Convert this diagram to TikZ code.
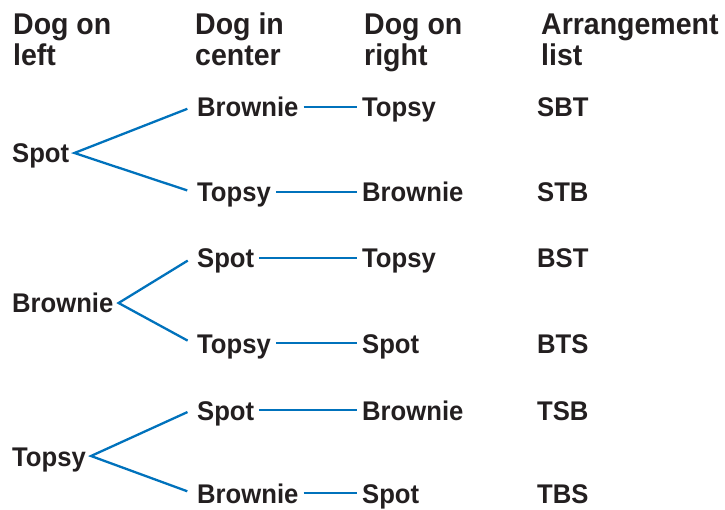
\documentclass[tikz,border=0pt]{standalone}
\usepackage{fontspec}
\setmainfont{Liberation Sans}
\newfontfamily\narrowsans[FakeStretch=0.95]{Liberation Sans}
\usetikzlibrary{positioning}
\definecolor{branchblue}{HTML}{0072BC}
\definecolor{inkdark}{HTML}{231F20}

\begin{document}
\begin{tikzpicture}[x=1pt, y=-1pt,
  head/.style={anchor=base west, inner sep=0pt, font=\narrowsans\fontsize{30}{34}\selectfont\bfseries, text=inkdark},
  dog/.style={anchor=base west, inner xsep=5pt, inner ysep=0pt, text height=20pt, text depth=0pt,
    font=\narrowsans\fontsize{27}{31}\selectfont\bfseries, text=inkdark},
  branch/.style={draw=branchblue, line width=2.3pt, shorten <=5pt, shorten >=5pt},
  link/.style={draw=branchblue, line width=2.3pt}
]
  \useasboundingbox (0,0) rectangle (725,510);

  % column headings
  \node[head] (hleft)   at (13,35)  {Dog on};
  \node[head] (hleftb)  at (13,66)  {left};
  \node[head] (hcent)   at (195,35) {Dog in};
  \node[head] (hcentb)  at (195,66) {center};
  \node[head] (hright)  at (364,35) {Dog on};
  \node[head] (hrightb) at (364,66) {right};
  \node[head] (hlist)   at (541,35) {Arrangement};
  \node[head] (hlistb)  at (541,66) {list};

  % Spot first
  \node[dog] (spot)  at (7,163)   {Spot};
  \node[dog] (sb)    at (192,117) {Brownie};
  \node[dog] (st)    at (192,202) {Topsy};
  \node[dog] (sbt)   at (357,117) {Topsy};
  \node[dog] (stb)   at (357,202) {Brownie};
  \node[dog] (lsbt)  at (532,117) {SBT};
  \node[dog] (lstb)  at (532,202) {STB};

  % Brownie first
  \node[dog] (brownie) at (7,313)   {Brownie};
  \node[dog] (bs)      at (192,268) {Spot};
  \node[dog] (bt)      at (192,353) {Topsy};
  \node[dog] (bst)     at (357,268) {Topsy};
  \node[dog] (bts)     at (357,353) {Spot};
  \node[dog] (lbst)    at (532,268) {BST};
  \node[dog] (lbts)    at (532,353) {BTS};

  % Topsy first
  \node[dog] (topsy) at (7,466)   {Topsy};
  \node[dog] (ts)    at (192,420) {Spot};
  \node[dog] (tb)    at (192,503) {Brownie};
  \node[dog] (tsb)   at (357,420) {Brownie};
  \node[dog] (tbs)   at (357,503) {Spot};
  \node[dog] (ltsb)  at (532,420) {TSB};
  \node[dog] (ltbs)  at (532,503) {TBS};

  \draw[branch] (sb.west) -- (spot.east) -- (st.west);
  \draw[branch] (bs.west) -- (brownie.east) -- (bt.west);
  \draw[branch] (ts.west) -- (topsy.east) -- (tb.west);

  \draw[link] (sb) -- (sbt);
  \draw[link] (st) -- (stb);
  \draw[link] (bs) -- (bst);
  \draw[link] (bt) -- (bts);
  \draw[link] (ts) -- (tsb);
  \draw[link] (tb) -- (tbs);
\end{tikzpicture}
\end{document}
